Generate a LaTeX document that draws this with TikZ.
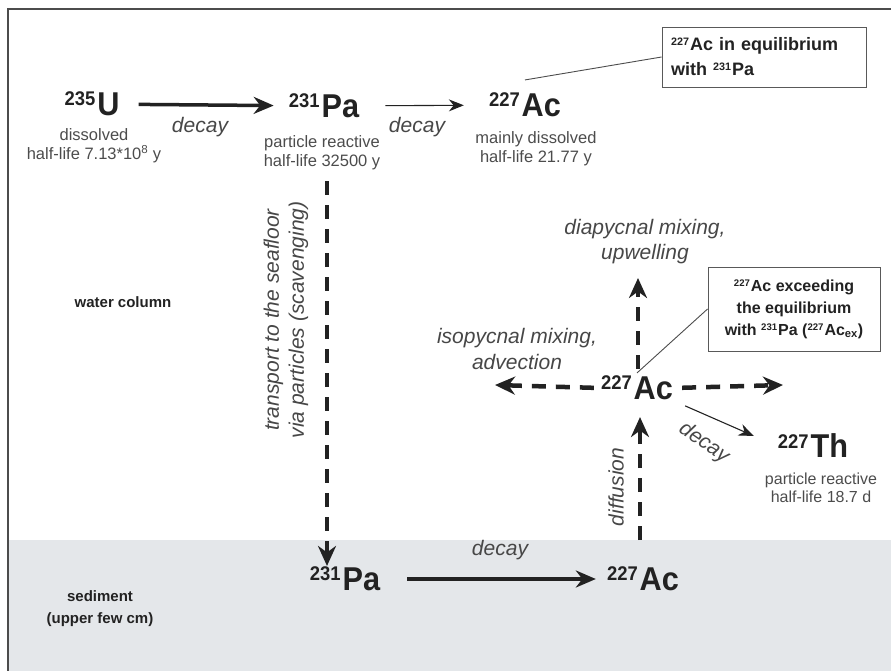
\documentclass[tikz,border=0pt]{standalone}
\usepackage{fontspec}
\setmainfont{Liberation Sans}
\newfontfamily\nucfont[FakeStretch=0.93]{Liberation Sans}
\usetikzlibrary{arrows.meta,positioning}
\definecolor{sedgray}{RGB}{228,231,234}
\definecolor{ink}{RGB}{34,34,34}
\newcommand{\iso}[2]{\raisebox{.29em}{\scalebox{0.6}{#1}}\kern.06em#2}

\begin{document}
\begin{tikzpicture}[x=1pt, y=-1pt, every node/.style={align=center, inner sep=1pt, text=ink},
  nuc/.style={font=\nucfont\fontsize{33}{35}\selectfont\bfseries},
  sub/.style={font=\fontsize{16.5}{19}\selectfont, text=black!70},
  proc/.style={font=\fontsize{21}{25}\selectfont\itshape, text=black!72},
  tag/.style={font=\fontsize{15}{22}\selectfont\bfseries},
  note/.style={rectangle, draw=black!65, line width=0.9pt, font=\fontsize{16}{22}\selectfont\bfseries},
  flow/.style={draw=ink, line width=3.5pt, -{Stealth[length=20pt, width=17pt]}},
  thinflow/.style={draw=ink, line width=1.1pt, -{Stealth[length=15pt, width=12pt]}},
  mix/.style={draw=ink, line width=4.5pt, dash pattern=on 14pt off 10pt, -{Stealth[length=20pt, width=18pt]}}]
\useasboundingbox (0,0) rectangle (891,671);
\fill[sedgray] (8,540) rectangle (891,671);
\draw[black!70, line width=1.5pt] (891,9) -- (8,9) -- (8,671);
\node[nuc] (U235) at (92,104) {\iso{235}{U}};
\node[sub] (U235sub) at (94,146) {dissolved\\half-life 7.13*10\textsuperscript{8} y};
\node[nuc] (Pa231) at (324,106) {\iso{231}{Pa}};
\node[sub] (Pa231sub) at (322,153) {particle reactive\\half-life 32500 y};
\node[nuc] (Ac227) at (525,105) {\iso{227}{Ac}};
\node[sub] (Ac227sub) at (536,149) {mainly dissolved\\half-life 21.77 y};
\node[note, align=left, minimum width=204pt, minimum height=60pt, text width=186pt, font=\fontsize{18}{25}\selectfont\bfseries] (boxEq) at (764,57) {\iso{227}{Ac} in equilibrium\\with \iso{231}{Pa}};
\node[proc] (decayA) at (200,127) {decay};
\node[proc] (decayB) at (417,127) {decay};
\node[tag] (water) at (123,302) {water column};
\node[proc, rotate=90] (transport) at (286,320) {transport to the seafloor\\via particles (scavenging)};
\node[nuc] (AcMid) at (637,388) {\iso{227}{Ac}};
\node[proc] (diapycnal) at (645,242) {diapycnal mixing,\\upwelling};
\node[proc, font=\fontsize{21}{26}\selectfont\itshape] (isopycnal) at (517,349) {isopycnal mixing,\\advection};
\node[note, minimum width=172pt, minimum height=84pt] (boxEx) at (794,309) {\iso{227}{Ac} exceeding\\the equilibrium\\with \iso{231}{Pa} (\iso{227}{Ac}\textsubscript{ex})};
\node[proc, rotate=-35] (decayC) at (704,443) {decay};
\node[nuc] (Th227) at (813,446) {\iso{227}{Th}};
\node[sub, font=\fontsize{16}{18}\selectfont] (Th227sub) at (821,488) {particle reactive\\half-life 18.7 d};
\node[proc, rotate=90] (diffusion) at (616,487) {diffusion};
\node[tag] (sediment) at (100,609) {sediment\\(upper few cm)};
\node[nuc] (PaSed) at (345,579) {\iso{231}{Pa}};
\node[nuc] (AcSed) at (643,579) {\iso{227}{Ac}};
\node[proc] (decayD) at (500,550) {decay};
\coordinate (leftEnd) at (495,385);
\coordinate (rightEnd) at (783,385);
\coordinate (upEnd) at (638,278);
\coordinate (diffFoot) at (640,540);
\draw[flow, shorten <=18pt, shorten >=14pt] (U235) -- (Pa231);
\draw[thinflow, shorten <=25pt, shorten >=24pt] (Pa231) -- (Ac227);
\draw[black!70, line width=0.9pt] ([yshift=12pt]Ac227.north) -- (boxEq.west);
\draw[mix, shorten <=10pt] ([xshift=5pt]Pa231sub.south) -- ([xshift=5pt]Pa231sub.south |- PaSed.north);
\draw[mix, shorten <=6pt] (AcMid.west) -- (leftEnd);
\draw[mix, shorten <=8pt] (AcMid.east) -- (rightEnd);
\draw[mix, shorten <=6pt] (AcMid.north -| upEnd) -- (upEnd);
\draw[black!70, line width=0.9pt] ([yshift=2pt]AcMid.north) -- (boxEx.west);
\draw[thinflow, shorten <=12pt, shorten >=25pt] (AcMid.south east) -- (Th227.west);
\draw[mix, shorten >=16pt] (diffFoot) -- (AcMid.south -| diffFoot);
\draw[flow, shorten <=26pt, shorten >=10pt] (PaSed) -- (AcSed);
\end{tikzpicture}
\end{document}
